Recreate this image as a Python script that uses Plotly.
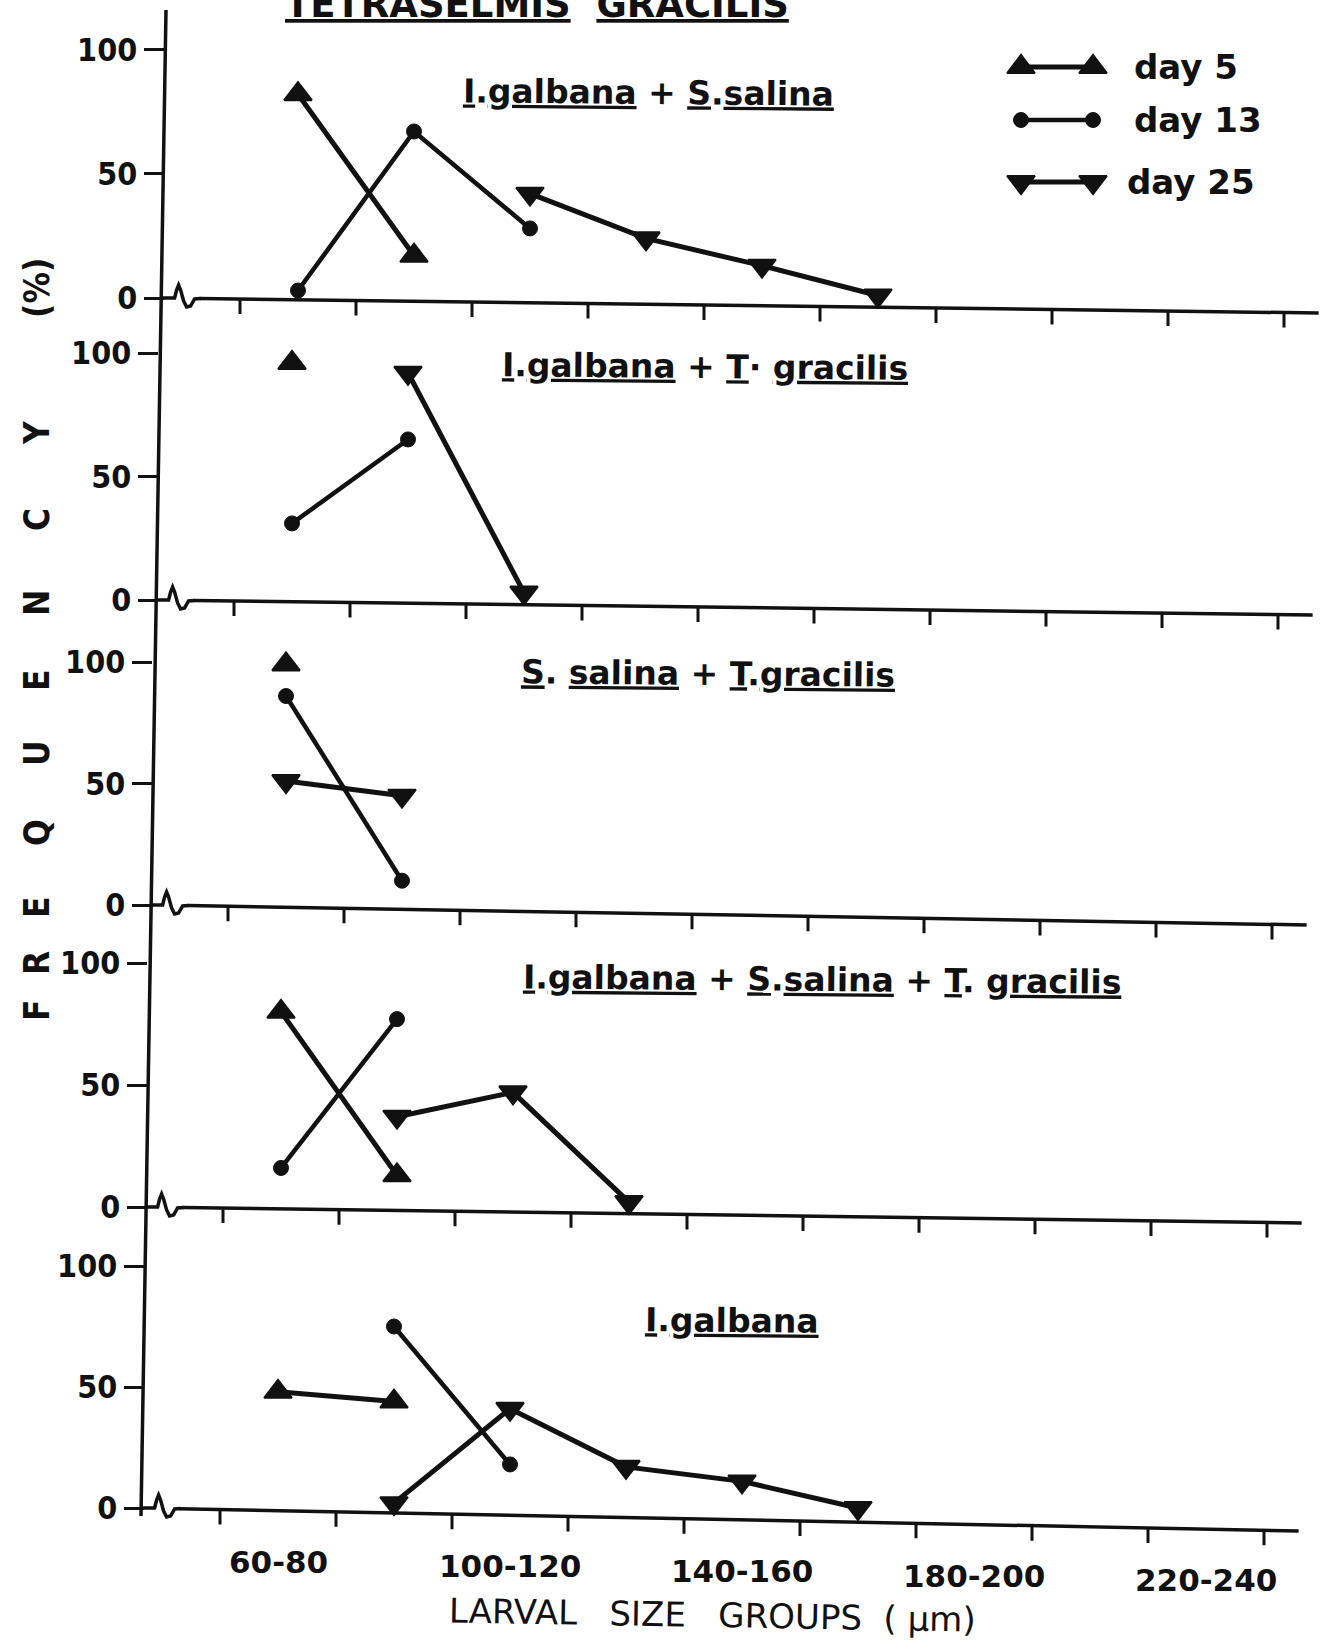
import plotly.graph_objects as go

# ---------------------------------------------------------------- data
size_classes = ["60-80", "80-100", "100-120", "120-140", "140-160",
                "160-180", "180-200", "200-220", "220-240"]
labelled_classes = ["60-80", "100-120", "140-160", "180-200", "220-240"]
freq_ticks = [0, 50, 100]

# I. galbana + S. salina
igss_day5_cls = ["60-80", "80-100"]
igss_day5 = [82, 17]
igss_day13_cls = ["60-80", "80-100", "100-120"]
igss_day13 = [3, 67, 28]
igss_day25_cls = ["100-120", "120-140", "140-160", "160-180"]
igss_day25 = [42, 24, 13, 1]

# I. galbana + T. gracilis
igtg_day5_cls = ["60-80"]
igtg_day5 = [96]
igtg_day13_cls = ["60-80", "80-100"]
igtg_day13 = [31, 65]
igtg_day25_cls = ["80-100", "100-120"]
igtg_day25 = [92, 3]

# S. salina + T. gracilis
sstg_day5_cls = ["60-80"]
sstg_day5 = [99]
sstg_day13_cls = ["60-80", "80-100"]
sstg_day13 = [86, 10]
sstg_day25_cls = ["60-80", "80-100"]
sstg_day25 = [51, 45]

# I. galbana + S. salina + T. gracilis
igsstg_day5_cls = ["60-80", "80-100"]
igsstg_day5 = [80, 13]
igsstg_day13_cls = ["60-80", "80-100"]
igsstg_day13 = [16, 77]
igsstg_day25_cls = ["80-100", "100-120", "120-140"]
igsstg_day25 = [37, 47, 2]

# I. galbana alone
ig_day5_cls = ["60-80", "80-100"]
ig_day5 = [48, 44]
ig_day13_cls = ["80-100", "100-120"]
ig_day13 = [75, 18]
ig_day25_cls = ["80-100", "100-120", "120-140", "140-160", "160-180"]
ig_day25 = [2, 41, 17, 11, 0]

panel_titles = [
    "<u>I</u>.<u>galbana</u> + <u>S</u>.<u>salina</u>",
    "<u>I</u>.<u>galbana</u> + <u>T</u>· <u>gracilis</u>",
    "<u>S</u>. <u>salina</u> + <u>T</u>.<u>gracilis</u>",
    "<u>I</u>.<u>galbana</u> + <u>S</u>.<u>salina</u> + <u>T</u>. <u>gracilis</u>",
    "<u>I</u>.<u>galbana</u>",
]
panel_series = [
    [(igss_day5_cls, igss_day5), (igss_day13_cls, igss_day13), (igss_day25_cls, igss_day25)],
    [(igtg_day5_cls, igtg_day5), (igtg_day13_cls, igtg_day13), (igtg_day25_cls, igtg_day25)],
    [(sstg_day5_cls, sstg_day5), (sstg_day13_cls, sstg_day13), (sstg_day25_cls, sstg_day25)],
    [(igsstg_day5_cls, igsstg_day5), (igsstg_day13_cls, igsstg_day13), (igsstg_day25_cls, igsstg_day25)],
    [(ig_day5_cls, ig_day5), (ig_day13_cls, ig_day13), (ig_day25_cls, ig_day25)],
]
day_names = ["day 5", "day 13", "day 25"]


def class_mid(label):
    lo, hi = label.split("-")
    return (float(lo) + float(hi)) / 2.0


def class_edges(labels):
    edges = [float(labels[0].split("-")[0])]
    edges += [float(c.split("-")[1]) for c in labels]
    return edges


# ---------------------------------------------------------------- layout geometry (pixels)
W, H = 1322, 1650
X_RANGE = [47, 246]
PX_PER_UM = 5.8
Y_FLOOR = -17          # room below the zero line for the sloping baseline and its ticks
TICK_PX = 15

# tick "60" position, zero line, top of panel, "100" line, baseline drop (page pixels)
panel_geom = [
    dict(t60=240, base=298, top=12, y100=49.5, drop=15),
    dict(t60=234, base=600, top=318, y100=353, drop=15),
    dict(t60=228, base=905, top=620, y100=662, drop=20),
    dict(t60=223, base=1207, top=922, y100=963, drop=16),
    dict(t60=220, base=1508, top=1222, y100=1266, drop=23),
]
title_pos = [(648, 92), (705, 366), (708, 673), (822, 979), (732, 1320)]

SANS = "DejaVu Sans, Verdana, sans-serif"
COND = "DejaVu Sans Condensed, Liberation Sans Narrow, DejaVu Sans, sans-serif"
INK = "#111111"


def fx(px):
    return px / W


def fy(py):
    return 1 - py / H


marker_style = [
    dict(symbol="triangle-up", size=24, line=dict(width=2, color=INK)),
    dict(symbol="circle", size=15, line=dict(width=1, color=INK)),
    dict(symbol="triangle-down", size=24, line=dict(width=2, color=INK)),
]
line_width = [5, 4.5, 5]

fig = go.Figure()
layout = dict(
    width=W, height=H, template="none",
    margin=dict(l=0, r=0, t=0, b=0),
    paper_bgcolor="white", plot_bgcolor="rgba(0,0,0,0)",
    showlegend=False, font=dict(family=SANS, color=INK),
)
annotations = []
shapes = []

edges = class_edges(size_classes)
span = X_RANGE[1] - X_RANGE[0]

for i, (g, series) in enumerate(zip(panel_geom, panel_series)):
    n = "" if i == 0 else str(i + 1)
    left = g["t60"] - (edges[0] - X_RANGE[0]) * PX_PER_UM
    right = g["t60"] + (X_RANGE[1] - edges[0]) * PX_PER_UM
    pxu = (g["base"] - g["y100"]) / 100.0
    ytop = (g["base"] - g["top"]) / pxu
    bottom_px = g["base"] - Y_FLOOR * pxu

    layout["xaxis" + n] = dict(
        domain=[fx(left), min(fx(right), 1.0)], range=X_RANGE, anchor="y" + n,
        showline=False, showgrid=False, zeroline=False, automargin=False,
        showticklabels=False, ticks="",
    )
    layout["yaxis" + n] = dict(
        domain=[fy(bottom_px), fy(g["top"])], range=[Y_FLOOR, ytop], anchor="x" + n,
        showline=False, showgrid=False, zeroline=False, automargin=False,
        tickvals=freq_ticks, ticktext=[str(v) for v in freq_ticks],
        ticks="outside", ticklen=20, tickwidth=3, tickcolor=INK,
        tickfont=dict(family=COND, size=32, color=INK, weight="bold"),
    )

    # the hand-ruled baseline sags slightly towards the right
    drop_u = g["drop"] / pxu

    def y_base(x):
        return -drop_u * (x - X_RANGE[0]) / span

    x_start = X_RANGE[0] + 35 / PX_PER_UM
    shapes.append(dict(type="line", xref="x" + n, yref="y" + n,
                       x0=x_start, y0=y_base(x_start), x1=X_RANGE[1], y1=y_base(X_RANGE[1]),
                       line=dict(color=INK, width=3.5), layer="above"))
    for e in edges:
        shapes.append(dict(type="line", xref="x" + n, yref="y" + n,
                           x0=e, y0=y_base(e), x1=e, y1=y_base(e) - TICK_PX / pxu,
                           line=dict(color=INK, width=3), layer="above"))

    # size-class labels under the last panel
    if i == len(panel_geom) - 1:
        for c in labelled_classes:
            m = class_mid(c)
            ypx = g["base"] + g["drop"] * (m - X_RANGE[0]) / span + 51
            annotations.append(dict(
                text=c, x=m, y=fy(ypx), xref="x" + n, yref="paper",
                xanchor="center", yanchor="middle", showarrow=False,
                font=dict(family=SANS, size=31, color=INK, weight="bold"),
            ))

    for k, (cls, vals) in enumerate(series):
        fig.add_trace(go.Scatter(
            x=[class_mid(c) for c in cls], y=vals, name=day_names[k],
            xaxis="x" + n, yaxis="y" + n, mode="lines+markers",
            line=dict(color=INK, width=line_width[k]),
            marker=dict(color=INK, **marker_style[k]),
            cliponaxis=False, hoverinfo="x+y+name",
        ))

    tx, ty = title_pos[i]
    annotations.append(dict(
        text=panel_titles[i], x=fx(tx), y=fy(ty), xref="paper", yref="paper",
        xanchor="center", yanchor="middle", showarrow=False, textangle=0.5,
        font=dict(family=SANS, size=33, color=INK, weight="bold"),
    ))

    # axis break mark next to the frequency axis
    x0 = left - 2
    yb = g["base"]
    pts = [(x0, yb), (x0 + 12, yb), (x0 + 14, yb - 8), (x0 + 16, yb - 13),
           (x0 + 18, yb - 8), (x0 + 21, yb + 3), (x0 + 24, yb + 9),
           (x0 + 28, yb + 8), (x0 + 32, yb + 1), (x0 + 38, yb + 0.5)]
    path = "M" + " L".join(f"{fx(a):.5f},{fy(b):.5f}" for a, b in pts)
    shapes.append(dict(type="path", xref="paper", yref="paper", path=path,
                       line=dict(color=INK, width=3.5), layer="above"))

# the frequency axis runs down the whole page
shapes.append(dict(type="line", xref="paper", yref="paper",
                   x0=fx(166), y0=fy(10), x1=fx(141), y1=fy(1516),
                   line=dict(color=INK, width=3.5), layer="above"))

# key panel drawn in page-pixel space
layout["xaxis6"] = dict(domain=[0, 1], range=[0, W], anchor="y6", visible=False, fixedrange=True)
layout["yaxis6"] = dict(domain=[0, 1], range=[H, 0], anchor="x6", visible=False, fixedrange=True)
key_rows = [(67, 1132), (120, 1132), (182, 1125)]
for k, (ky, tx) in enumerate(key_rows):
    fig.add_trace(go.Scatter(
        x=[1021, 1093], y=[ky, ky], xaxis="x6", yaxis="y6", mode="lines+markers",
        line=dict(color=INK, width=line_width[k]),
        marker=dict(color=INK, **marker_style[k]), hoverinfo="skip", cliponaxis=False,
    ))
    annotations.append(dict(
        text=day_names[k], x=fx(tx), y=fy(ky), xref="paper", yref="paper",
        xanchor="left", yanchor="middle", showarrow=False,
        font=dict(family=SANS, size=34, color=INK, weight="bold"),
    ))

# page title (runs off the top edge)
annotations.append(dict(
    text="<u>TETRASELMIS</u>  <u>GRACILIS</u>", x=fx(537), y=fy(4), xref="paper", yref="paper",
    xanchor="center", yanchor="middle", showarrow=False,
    font=dict(family=SANS, size=37, color=INK, weight="bold"),
))

# x-axis title
annotations.append(dict(
    text="LARVAL\u00a0\u00a0 SIZE\u00a0\u00a0 GROUPS\u00a0 (\u00a0µm)", x=fx(712), y=fy(1615),
    xref="paper", yref="paper", xanchor="center", yanchor="middle", showarrow=False,
    textangle=1.0, borderpad=0, font=dict(family=SANS, size=34, color=INK),
))

# spaced-out vertical frequency title
y_letters = [("F", 1010), ("R", 963), ("E", 907), ("Q", 833), ("U", 753),
             ("E", 680), ("N", 603), ("C", 520), ("Y", 433), ("(%)", 288)]
for ch, py in y_letters:
    annotations.append(dict(
        text=ch, x=fx(37), y=fy(py), xref="paper", yref="paper",
        xanchor="center", yanchor="middle", textangle=-90, showarrow=False,
        font=dict(family=COND, size=35, color=INK, weight="bold"),
    ))

layout["annotations"] = annotations
layout["shapes"] = shapes
fig.update_layout(**layout)
fig.write_html("out.html")
